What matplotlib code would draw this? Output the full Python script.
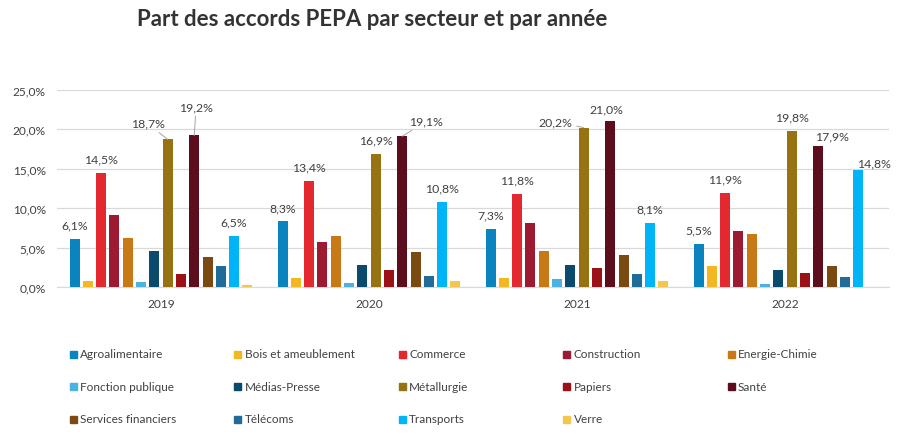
import numpy as np
import matplotlib
matplotlib.use('Agg')
from matplotlib import pyplot as plt
from matplotlib.patches import Rectangle
from matplotlib.ticker import FuncFormatter

plt.rcParams['font.family'] = ['Lato', 'DejaVu Sans']

years = ['2019', '2020', '2021', '2022']
sectors = ['Agroalimentaire', 'Bois et ameublement', 'Commerce', 'Construction', 'Energie-Chimie',
           'Fonction publique', 'Médias-Presse', 'Métallurgie', 'Papiers', 'Santé',
           'Services financiers', 'Télécoms', 'Transports', 'Verre']
colors = ['#0A84BF', '#F2B824', '#E4282F', '#9D1A33', '#C97816',
          '#4BB2E3', '#0A4A6C', '#977212', '#9C1117', '#5C0E1E',
          '#7B4A12', '#1F6C98', '#00B5F7', '#F5C64E']

# part (%) de chaque secteur, par année
v2019 = [6.1, 0.8, 14.5, 9.1, 6.2, 0.6, 4.5, 18.7, 1.6, 19.2, 3.8, 2.6, 6.5, 0.3]
v2020 = [8.3, 1.2, 13.4, 5.7, 6.4, 0.5, 2.8, 16.9, 2.2, 19.1, 4.4, 1.4, 10.8, 0.7]
v2021 = [7.3, 1.2, 11.8, 8.1, 4.5, 1.0, 2.8, 20.2, 2.4, 21.0, 4.0, 1.6, 8.1, 0.8]
v2022 = [5.5, 2.6, 11.9, 7.1, 6.7, 0.4, 2.1, 19.8, 1.8, 17.9, 2.6, 1.3, 14.8, 0.0]
labelled = [0, 2, 7, 9, 12]  # secteurs avec étiquette de valeur

vals = np.array([v2019, v2020, v2021, v2022]) / 100.

# placement des étiquettes (pixels) : (dx, dy, trait de rappel)
lbl_off = {(0, 7): (-20, 16, True), (0, 9): (2, 29, True), (1, 9): (24, 15, True),
           (2, 7): (-28, 6, True), (2, 9): (-4, 12, False), (3, 9): (14, 10, False),
           (3, 12): (16, 7, False)}

fig = plt.figure(figsize=(9.01, 4.39), dpi=100)
ax = fig.add_axes([57/901, 1-288/439, (889-57)/901, (288-90.7)/439])

n = len(sectors)
step = 0.0639
bw = 0.048
x = np.arange(len(years))
for j in range(n):
    xs = x + (j - (n-1)/2.) * step
    bars = ax.bar(xs, vals[:, j], width=bw, color=colors[j], zorder=3)
    if j in labelled:
        for i, b in enumerate(bars):
            dx, dy, line = lbl_off.get((i, j), (0, 14, False))
            ap = dict(arrowstyle='-', color='#a6a6a6', lw=0.7, shrinkA=1, shrinkB=0) if line else None
            ax.annotate(('%.1f%%' % (vals[i, j]*100)).replace('.', ','),
                        xy=(b.get_x() + b.get_width()/2, b.get_height()),
                        xytext=(dx, dy), textcoords='offset pixels',
                        ha='center', va='center', fontsize=8.8, color='#404040',
                        arrowprops=ap)

ax.set_xlim(-0.5, 3.5)
ax.set_ylim(0, 0.25)
ax.set_yticks(np.arange(0, 0.26, 0.05))
ax.yaxis.set_major_formatter(FuncFormatter(lambda v, p: ('%.1f%%' % (v*100)).replace('.', ',')))
ax.set_xticks(x)
ax.set_xticklabels(years)
ax.tick_params(axis='both', length=0, labelsize=8.6, labelcolor='#404040')
ax.tick_params(axis='y', pad=8)
ax.tick_params(axis='x', pad=8)
ax.grid(axis='y', color='#d9d9d9', lw=0.9, zorder=0)
for s in ['top', 'right', 'left']:
    ax.spines[s].set_visible(False)
ax.spines['bottom'].set_color('#d9d9d9')

fig.text(372/901, 1-20/439, 'Part des accords PEPA par secteur et par année',
         ha='center', va='center', fontsize=16, fontweight='bold', color='#333333')

# légende (5 colonnes, remplie ligne par ligne)
for k, (name, c) in enumerate(zip(sectors, colors)):
    r, col = divmod(k, 5)
    lx = 73 + col*164.5
    ly = 355 + r*32.5
    fig.add_artist(Rectangle(((lx-3.5)/901, 1-(ly+3.5)/439), 7/901, 7/439,
                             transform=fig.transFigure, color=c))
    fig.text((lx+7)/901, 1-ly/439, name, ha='left', va='center', fontsize=8.5, color='#404040')

fig.savefig('out.png', dpi=100)
